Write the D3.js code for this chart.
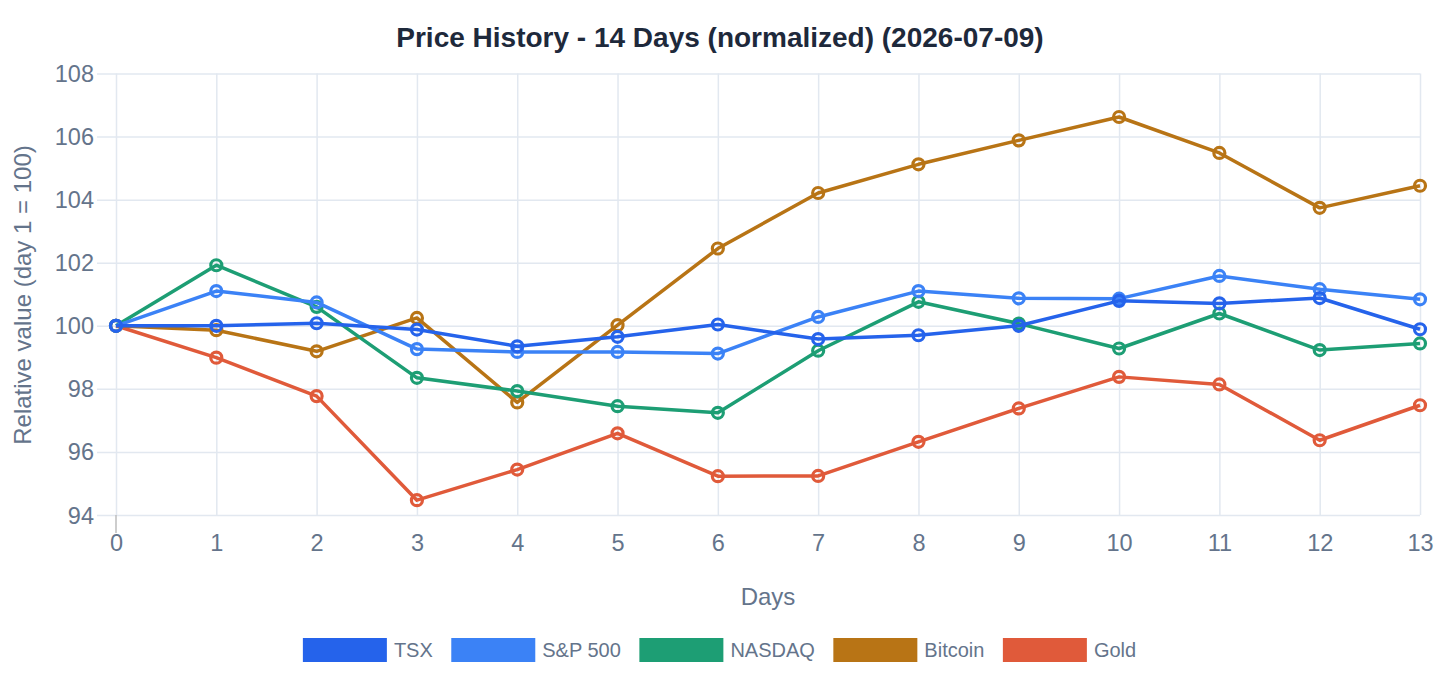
<!DOCTYPE html>
<html>
<head>
<meta charset="utf-8">
<script src="https://cdn.jsdelivr.net/npm/d3@7"></script>
<style>
  html, body { margin: 0; padding: 0; background: #ffffff; }
  svg { display: block; font-family: "Liberation Sans", Arial, sans-serif; }
</style>
</head>
<body>
<svg id="chart" width="1440" height="680"></svg>
<script>
const days = [0,1,2,3,4,5,6,7,8,9,10,11,12,13];
const yTicks = [94,96,98,100,102,104,106,108];
const seriesNames = ["TSX","S&P 500","NASDAQ","Bitcoin","Gold"];
const seriesColors = ["#2563eb","#3b82f6","#1d9e74","#b87415","#e05a3a"];
const tsx     = [100,100.0,100.08,99.88,99.35,99.65,100.04,99.58,99.70,100.0,100.79,100.71,100.88,99.89];
const sp500   = [100,101.10,100.74,99.26,99.17,99.17,99.12,100.28,101.10,100.87,100.86,101.58,101.16,100.84];
const nasdaq  = [100,101.92,100.60,98.35,97.93,97.45,97.24,99.21,100.76,100.07,99.28,100.39,99.23,99.44];
const bitcoin = [100,99.86,99.19,100.25,97.57,100.02,102.45,104.21,105.12,105.88,106.62,105.48,103.74,104.44];
const gold    = [100,98.99,97.77,94.47,95.44,96.59,95.23,95.24,96.32,97.38,98.38,98.14,96.37,97.48];
const seriesValues = [tsx, sp500, nasdaq, bitcoin, gold];
const titleText = "Price History - 14 Days (normalized) (2026-07-09)";
const xTitle = "Days";
const yTitle = "Relative value (day 1 = 100)";

const svg = d3.select("#chart");
const x = d3.scaleLinear().domain([0,13]).range([116,1420]);
const y = d3.scaleLinear().domain([94,108]).range([515,73.5]);
const gridColor = "#e2e8f0";
const textColor = "#64748b";

// Title
svg.append("text").attr("x", 720).attr("y", 47).attr("text-anchor","middle")
  .attr("font-size", 28).attr("font-weight","bold").attr("fill","#1e293b").text(titleText);

// Horizontal grid
const yAxis = d3.axisLeft(y).tickValues(yTicks).tickSize(-(1420-97)).tickPadding(3).tickFormat(d3.format("d"));
const gy = svg.append("g").attr("transform","translate(97,0)").call(yAxis);
gy.select(".domain").remove();
gy.selectAll(".tick line").attr("stroke", gridColor).attr("stroke-width",1.5);
gy.selectAll(".tick text").attr("fill", textColor).attr("font-size", 23.5)
  .attr("font-family","Liberation Sans, Arial, sans-serif").attr("dy","0.34em");

// Vertical grid
const xAxis = d3.axisBottom(x).tickValues(days).tickSize(-(515-73.5)).tickPadding(0).tickFormat(d3.format("d"));
const gx = svg.append("g").attr("transform","translate(0,515)").call(xAxis);
gx.select(".domain").remove();
gx.selectAll(".tick line").attr("stroke", gridColor).attr("stroke-width",1.5);
gx.selectAll(".tick text").attr("fill", textColor).attr("font-size", 23.5)
  .attr("font-family","Liberation Sans, Arial, sans-serif").attr("y", 0).attr("dy", "1.55em");
// y-axis stub below
svg.append("line").attr("x1", x(0)).attr("x2", x(0)).attr("y1", 515).attr("y2", 533)
  .attr("stroke","#bdbdbd").attr("stroke-width",1.5);

// Axis titles
svg.append("text").attr("x", 768).attr("y", 605).attr("text-anchor","middle")
  .attr("font-size", 24).attr("fill", textColor).text(xTitle);
svg.append("text").attr("transform","translate(31,295) rotate(-90)").attr("text-anchor","middle")
  .attr("font-size", 24).attr("fill", textColor).text(yTitle);

// Lines (reverse order so first series on top)
const line = d3.line().x((d,i)=>x(days[i])).y(d=>y(d));
for (let s = seriesNames.length-1; s >= 0; s--) {
  const g = svg.append("g");
  g.append("path").datum(seriesValues[s]).attr("d", line).attr("fill","none")
    .attr("stroke", seriesColors[s]).attr("stroke-width", 3.5).attr("stroke-linejoin","round");
  g.selectAll("circle").data(seriesValues[s]).enter().append("circle")
    .attr("cx",(d,i)=>x(days[i])).attr("cy", d=>y(d)).attr("r", 5.5)
    .attr("fill","none").attr("stroke", seriesColors[s]).attr("stroke-width", 3.2);
}

// Legend
const legend = svg.append("g");
const items = [];
seriesNames.forEach((n,i)=>{
  const it = legend.append("g");
  it.append("rect").attr("x", 0).attr("y", 638).attr("width", 84).attr("height", 24).attr("fill", seriesColors[i]);
  const t = it.append("text").attr("x", 91).attr("y", 657).attr("font-size", 20).attr("fill", textColor).text(n);
  const w = 91 + t.node().getComputedTextLength();
  items.push({it, w});
});
const gap = 18.5;
const total = items.reduce((a,b)=>a+b.w,0) + gap*(items.length-1);
let pos = 719.5 - total/2;
items.forEach(o=>{ o.it.attr("transform", `translate(${pos},0)`); pos += o.w + gap; });
</script>
</body>
</html>
